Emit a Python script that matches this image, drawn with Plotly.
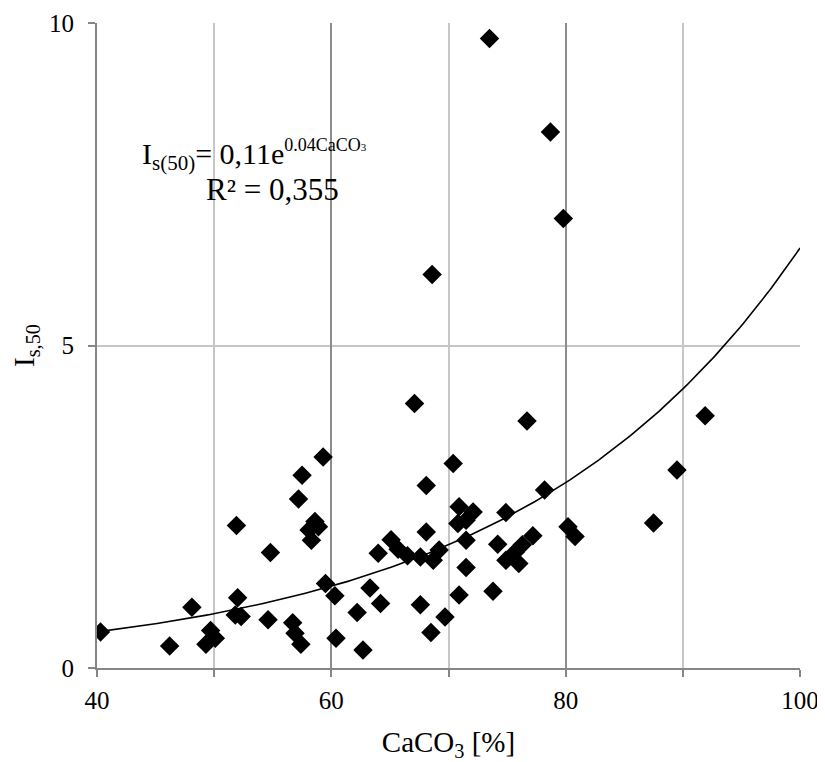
import numpy as np
import plotly.graph_objects as go

# CaCO3 content [%]
caco3 = [40.3, 46.2, 48.1, 49.3, 49.7, 50.1, 51.9, 52.0, 51.8, 52.3,
         54.8, 54.6, 56.7, 56.9, 57.4, 57.2, 57.5, 59.3, 58.6, 58.9,
         58.1, 58.3, 59.5, 60.3, 60.4, 62.7, 62.2, 63.3, 64.2, 64.0,
         65.1, 65.7, 66.5, 67.6, 68.1, 68.7, 69.2, 67.6, 69.7, 68.5,
         70.9, 71.5, 71.5, 70.9, 72.1, 70.8, 71.5, 73.8, 74.2, 74.9,
         74.9, 76.0, 75.7, 76.3, 77.2, 67.1, 68.1, 70.4, 76.7, 78.2,
         80.2, 80.8, 87.5, 89.5, 91.9, 73.5, 78.7, 79.8, 68.6]
# Point load index Is(50)
is50 = [0.56, 0.34, 0.94, 0.37, 0.58, 0.46, 2.21, 1.09, 0.82, 0.80,
        1.79, 0.75, 0.70, 0.54, 0.37, 2.62, 2.99, 3.27, 2.27, 2.19,
        2.14, 1.98, 1.31, 1.12, 0.46, 0.28, 0.86, 1.24, 1.00, 1.78,
        1.99, 1.84, 1.74, 1.72, 2.11, 1.67, 1.83, 0.98, 0.79, 0.55,
        1.13, 1.56, 1.98, 2.50, 2.42, 2.24, 2.29, 1.19, 1.92, 2.41,
        1.67, 1.62, 1.80, 1.91, 2.05, 4.10, 2.83, 3.17, 3.83, 2.76,
        2.19, 2.04, 2.25, 3.07, 3.91, 9.76, 8.31, 6.97, 6.10]

# exponential trendline coefficients (as drawn)
trend_a = 0.109
trend_b = 0.0409
x_range = [40, 100]
y_range = [0, 10]

x_ticks = [40, 50, 60, 70, 80, 90, 100]
x_ticktext = ["40", "", "60", "", "80", "", "100"]
x_major_grid = [60, 80]
y_ticks = [0, 5, 10]

FONT = "Liberation Serif"
AXIS_DARK = "#868686"
GRID_LIGHT = "#c6c6c6"
GRID_DARK = "#8c8c8c"

tx = np.linspace(x_range[0], x_range[1], 200)
ty = trend_a * np.exp(trend_b * tx)

fig = go.Figure()
fig.add_trace(go.Scatter(x=tx, y=ty, mode="lines",
                         line=dict(color="black", width=1.6),
                         hoverinfo="skip", showlegend=False))
fig.add_trace(go.Scatter(x=caco3, y=is50, mode="markers",
                         marker=dict(symbol="diamond", size=15, color="black",
                                     line=dict(width=0)),
                         showlegend=False))
# invisible trace on overlay axis for darker gridlines
fig.add_trace(go.Scatter(x=[None], y=[None], xaxis="x2", showlegend=False))

fig.update_layout(
    width=817, height=754,
    margin=dict(l=89, r=25, t=15, b=94, autoexpand=False),
    paper_bgcolor="white", plot_bgcolor="white",
    font=dict(family=FONT, color="black", size=25),
    xaxis=dict(range=x_range, tickmode="array", tickvals=x_ticks,
               ticktext=x_ticktext, showgrid=True, gridcolor=GRID_LIGHT,
               gridwidth=1.5, zeroline=False,
               showline=True, linecolor=AXIS_DARK, linewidth=2,
               ticks="outside", ticklen=7, tickwidth=2, tickcolor=AXIS_DARK,
               ticklabelstandoff=2,
               tickfont=dict(family=FONT, size=25, color="black"),
               title=dict(text="CaCO<sub>3</sub> [%]",
                          font=dict(family=FONT, size=29, color="black"),
                          standoff=20)),
    xaxis2=dict(range=x_range, overlaying="x", matches="x",
                tickmode="array", tickvals=x_major_grid, showticklabels=False,
                showgrid=True, gridcolor=GRID_DARK, gridwidth=1.5,
                zeroline=False, showline=False, ticks=""),
    yaxis=dict(range=y_range, tickmode="array", tickvals=y_ticks,
               showgrid=True, gridcolor=GRID_LIGHT, gridwidth=1.5,
               zeroline=False,
               showline=True, linecolor=AXIS_DARK, linewidth=2,
               ticks="outside", ticklen=7, tickwidth=2, tickcolor=AXIS_DARK,
               ticklabelstandoff=9,
               tickfont=dict(family=FONT, size=25, color="black"),
               title=dict(text="I<sub>s,50</sub>",
                          font=dict(family=FONT, size=29, color="black"),
                          standoff=8)),
    annotations=[
        dict(x=53.4, y=7.95, xref="x", yref="y", showarrow=False,
             text=("I<sub>s(50)</sub>= 0,11e<sup><span style='font-size:18px'>"
                   "0.04CaCO<span style='font-size:11px'>3</span></span></sup>"),
             font=dict(family=FONT, size=30, color="black")),
        dict(x=55.0, y=7.42, xref="x", yref="y", showarrow=False,
             text="R² = 0,355",
             font=dict(family=FONT, size=31, color="black")),
    ],
)

fig.write_html("out.html")
